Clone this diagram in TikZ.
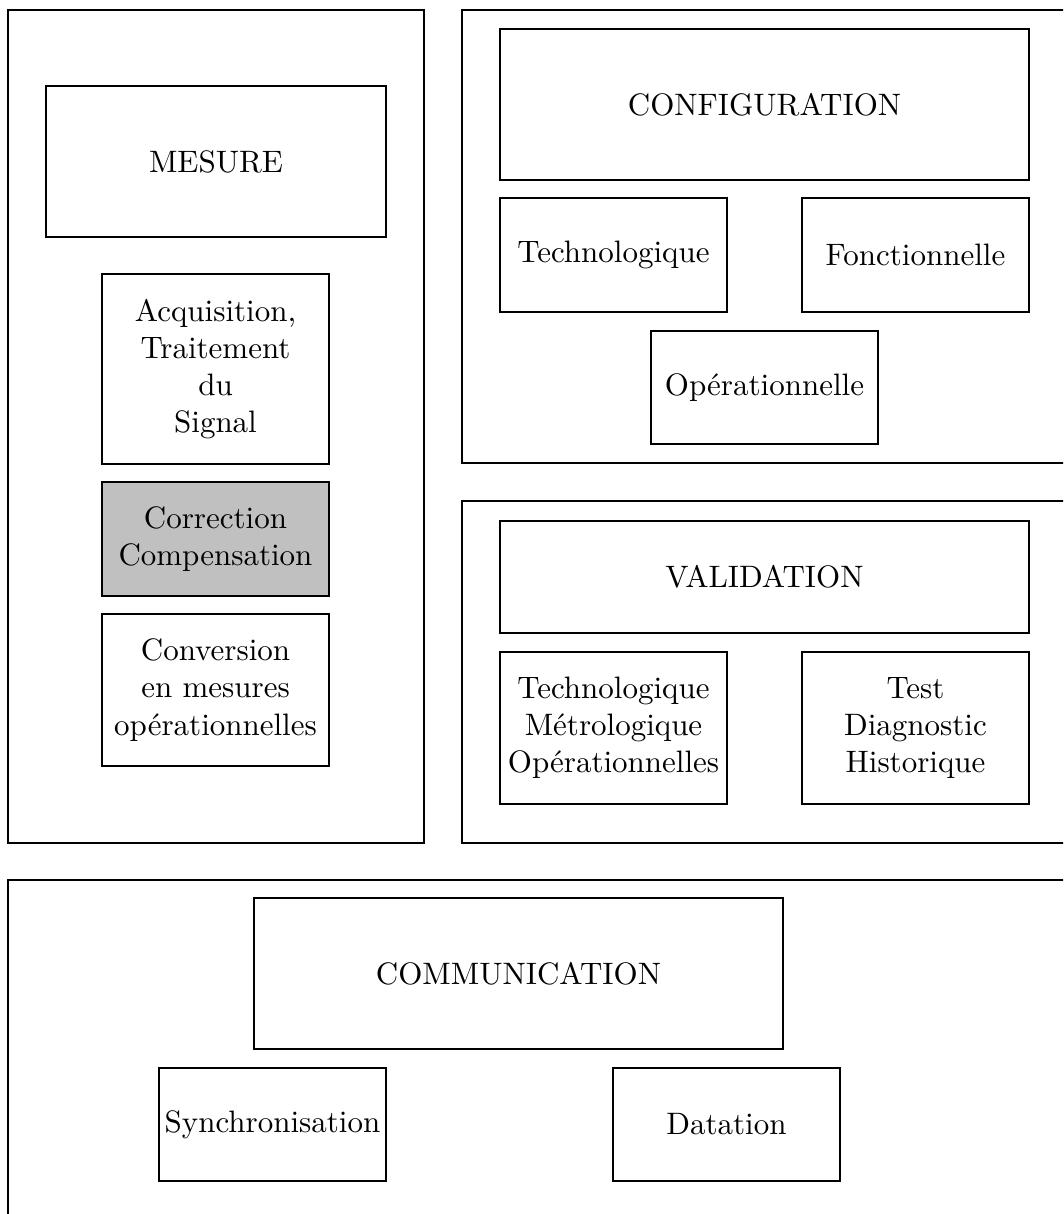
\documentclass[tikz,border=0pt]{standalone}
\usepackage{fontspec}
\begin{document}
\begin{tikzpicture}[x=0.3226pt,y=-0.3226pt,
  frame/.style={draw,line width=0.6pt},
  lbl/.style={align=center,inner sep=0pt}]
\useasboundingbox (0,0) rectangle (1063,1214);
\clip (0,0) rectangle (1063,1214);
\newcommand{\bx}[7]{\draw[frame,#7] (#2,#3) rectangle (#4,#5) node[lbl,midway] (#1) {#6};}
% outer frames
\bx{mesureframe}{8}{10}{424}{843}{}{}
\bx{configframe}{462}{10}{1100}{463}{}{}
\bx{validframe}{462}{501}{1100}{843}{}{}
\bx{commframe}{8}{880}{1100}{1260}{}{}
% MESURE
\bx{mesure}{46}{86}{386}{237}{MESURE}{}
\bx{acq}{102}{274}{329}{464}{Acquisition,\\Traitement\\du\\Signal}{}
\bx{corr}{102}{482}{329}{596}{Correction\\Compensation}{fill={rgb,255:red,192;green,192;blue,192}}
\bx{conv}{102}{614}{329}{766}{Conversion\\en mesures\\opérationnelles}{}
% CONFIGURATION
\bx{config}{500}{29}{1029}{180}{CONFIGURATION}{}
\bx{techno}{500}{198}{727}{312}{Technologique}{}
\bx{fonct}{802}{198}{1029}{312}{Fonctionnelle}{}
\bx{opera}{651}{331}{878}{444}{Opérationnelle}{}
% VALIDATION
\bx{valid}{500}{521}{1029}{633}{VALIDATION}{}
\bx{tmo}{500}{652}{727}{804}{Technologique\\Métrologique\\Opérationnelles}{}
\bx{tdh}{802}{652}{1029}{804}{Test\\Diagnostic\\Historique}{}
% COMMUNICATION
\bx{comm}{254}{898}{783}{1049}{COMMUNICATION}{}
\bx{sync}{159}{1068}{386}{1181}{Synchronisation}{}
\bx{dat}{613}{1068}{840}{1181}{Datation}{}
\end{tikzpicture}
\end{document}
